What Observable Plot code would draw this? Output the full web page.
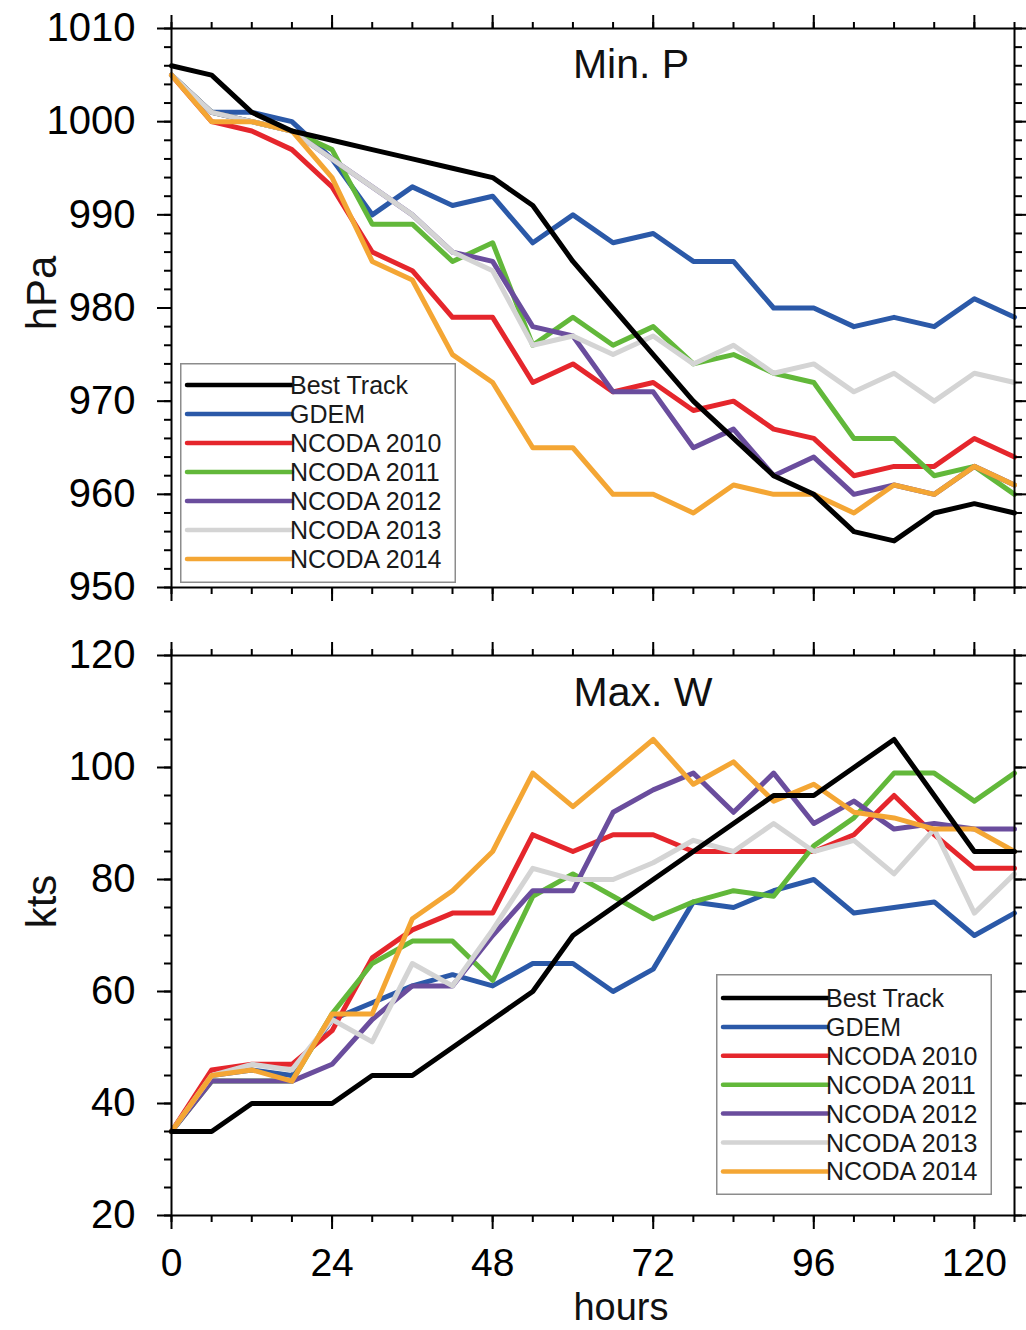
<!DOCTYPE html>
<html>
<head>
<meta charset="utf-8">
<script src="https://cdn.jsdelivr.net/npm/d3@7"></script>
<script src="https://cdn.jsdelivr.net/npm/@observablehq/plot@0.6"></script>
<style>
  body { margin: 0; background: #fff; }
  #wrap { position: relative; width: 1026px; height: 1330px; overflow: hidden; background: #fff;
          font-family: "Liberation Sans", Arial, Helvetica, sans-serif; color: #000; }
  #wrap > svg { position: absolute; left: 0; }
</style>
</head>
<body>
<div id="wrap"></div>
<script>
// ---------------- data ----------------
const hours = [0, 6, 12, 18, 24, 30, 36, 42, 48, 54, 60, 66, 72, 78, 84, 90, 96, 102, 108, 114, 120, 126];
const seriesNames = ["Best Track", "GDEM", "NCODA 2010", "NCODA 2011", "NCODA 2012", "NCODA 2013", "NCODA 2014"];
const seriesColors = ["#000000", "#2b59a8", "#e5262c", "#62b83a", "#6a4d9d", "#d4d4d4", "#f4a634"];

// Minimum pressure (hPa)
const minP_bestTrack = [1006, 1005, 1001, 999, 998, 997, 996, 995, 994, 991, 985, 980, 975, 970, 966, 962, 960, 956, 955, 958, 959, 958];
const minP_gdem      = [1005, 1001, 1001, 1000, 996, 990, 993, 991, 992, 987, 990, 987, 988, 985, 985, 980, 980, 978, 979, 978, 981, 979];
const minP_ncoda2010 = [1005, 1000, 999, 997, 993, 986, 984, 979, 979, 972, 974, 971, 972, 969, 970, 967, 966, 962, 963, 963, 966, 964];
const minP_ncoda2011 = [1005, 1001, 1000, 999, 997, 989, 989, 985, 987, 976, 979, 976, 978, 974, 975, 973, 972, 966, 966, 962, 963, 960];
const minP_ncoda2012 = [1005, 1001, 1000, 999, 996, 993, 990, 986, 985, 978, 977, 971, 971, 965, 967, 962, 964, 960, 961, 960, 963, 961];
const minP_ncoda2013 = [1005, 1001, 1000, 999, 996, 993, 990, 986, 984, 976, 977, 975, 977, 974, 976, 973, 974, 971, 973, 970, 973, 972];
const minP_ncoda2014 = [1005, 1000, 1000, 999, 994, 985, 983, 975, 972, 965, 965, 960, 960, 958, 961, 960, 960, 958, 961, 960, 963, 961];

// Maximum wind (kts)
const maxW_bestTrack = [35, 35, 40, 40, 40, 45, 45, 50, 55, 60, 70, 75, 80, 85, 90, 95, 95, 100, 105, 95, 85, 85];
const maxW_gdem      = [35, 45, 46, 45, 55, 58, 61, 63, 61, 65, 65, 60, 64, 76, 75, 78, 80, 74, 75, 76, 70, 74];
const maxW_ncoda2010 = [35, 46, 47, 47, 53, 66, 71, 74, 74, 88, 85, 88, 88, 85, 85, 85, 85, 88, 95, 88, 82, 82];
const maxW_ncoda2011 = [35, 44, 44, 44, 56, 65, 69, 69, 62, 77, 81, 77, 73, 76, 78, 77, 86, 91, 99, 99, 94, 99];
const maxW_ncoda2012 = [35, 44, 44, 44, 47, 55, 61, 61, 70, 78, 78, 92, 96, 99, 92, 99, 90, 94, 89, 90, 89, 89];
const maxW_ncoda2013 = [35, 45, 47, 46, 55, 51, 65, 61, 71, 82, 80, 80, 83, 87, 85, 90, 85, 87, 81, 89, 74, 81];
const maxW_ncoda2014 = [35, 45, 46, 44, 56, 56, 73, 78, 85, 99, 93, 99, 105, 97, 101, 94, 97, 92, 91, 89, 89, 85];

// Axis ticks
const hourTicks = [0, 24, 48, 72, 96, 120];
const hourMinorTicks = d3.range(0, 127, 6);
const pTicks = [950, 960, 970, 980, 990, 1000, 1010];
const pMinorTicks = d3.range(950, 1011, 2);
const wTicks = [20, 40, 60, 80, 100, 120];
const wMinorTicks = d3.range(20, 121, 5);

const panelTitles = ["Min. P", "Max. W"];
const yLabels = ["hPa", "kts"];
const xLabel = "hours";

// ---------------- drawing ----------------
const FONT = '"Liberation Sans", Arial, Helvetica, sans-serif';
const drawOrder = [1, 2, 3, 4, 5, 6, 0];

function tidy(valuesList) {
  const rows = [];
  for (const i of drawOrder) {
    valuesList[i].forEach((v, j) => rows.push({series: seriesNames[i], hour: hours[j], value: v}));
  }
  return rows;
}

const blank = () => "";
const plain = d => String(d);

function makePanel(o) {
  const ax = {stroke: "#000", strokeWidth: 2, label: null};
  return Plot.plot({
    width: 1026,
    height: o.height,
    marginLeft: 171,
    marginRight: 12,
    marginTop: o.marginTop,
    marginBottom: o.marginBottom,
    style: {fontFamily: FONT, background: "transparent", color: "#000", overflow: "visible"},
    x: {domain: [0, 126]},
    y: {domain: o.yDomain},
    color: {domain: seriesNames, range: seriesColors},
    marks: [
      Plot.line(o.rows, {x: "hour", y: "value", z: "series", stroke: "series", strokeWidth: 5}),
      Plot.frame({stroke: "#000", strokeWidth: 2}),
      Plot.axisY(o.yMajor, {...ax, anchor: "left", tickSize: 14, tickPadding: 22, fontSize: 40, tickFormat: plain}),
      Plot.axisY(o.yMinor, {...ax, anchor: "left", tickSize: 7, tickFormat: blank}),
      Plot.axisY(o.yMajor, {...ax, anchor: "right", tickSize: 14, tickFormat: blank}),
      Plot.axisY(o.yMinor, {...ax, anchor: "right", tickSize: 7, tickFormat: blank}),
      Plot.axisX(hourTicks, {...ax, anchor: "top", tickSize: 14, tickFormat: blank}),
      Plot.axisX(hourMinorTicks, {...ax, anchor: "top", tickSize: 7, tickFormat: blank}),
      Plot.axisX(hourTicks, {...ax, anchor: "bottom", tickSize: 14, tickPadding: 19, fontSize: 39,
                              tickFormat: o.xLabels ? plain : blank}),
      Plot.axisX(hourMinorTicks, {...ax, anchor: "bottom", tickSize: 7, tickFormat: blank}),
      Plot.text([o.title], {frameAnchor: "top", dx: o.titleDx, dy: o.titleDy, lineAnchor: "top",
                            textAnchor: "middle", fontSize: 41, fill: "#111"}),
      Plot.text([o.yLabel], {frameAnchor: "left", rotate: -90, dx: -129, dy: o.yLabelDy,
                             textAnchor: "middle", lineAnchor: "middle", fontSize: 42, fill: "#111"}),
      ...(o.xLabels ? [Plot.text([xLabel], {frameAnchor: "bottom", dx: 28, dy: 92, textAnchor: "middle",
                                            lineAnchor: "middle", fontSize: 38, fill: "#111"})] : [])
    ]
  });
}

const wrapEl = document.getElementById("wrap");

const topPanel = makePanel({
  height: 620, marginTop: 28, marginBottom: 33,
  yDomain: [950, 1010], yMajor: pTicks, yMinor: pMinorTicks,
  rows: tidy([minP_bestTrack, minP_gdem, minP_ncoda2010, minP_ncoda2011, minP_ncoda2012, minP_ncoda2013, minP_ncoda2014]),
  title: panelTitles[0], titleDx: 38, titleDy: 20,
  yLabel: yLabels[0], yLabelDy: -15, xLabels: false
});
topPanel.style.top = "0px";
wrapEl.appendChild(topPanel);

const bottomPanel = makePanel({
  height: 710, marginTop: 35, marginBottom: 115,
  yDomain: [20, 120], yMajor: wTicks, yMinor: wMinorTicks,
  rows: tidy([maxW_bestTrack, maxW_gdem, maxW_ncoda2010, maxW_ncoda2011, maxW_ncoda2012, maxW_ncoda2013, maxW_ncoda2014]),
  title: panelTitles[1], titleDx: 50, titleDy: 21,
  yLabel: yLabels[1], yLabelDy: -34, xLabels: true
});
bottomPanel.style.top = "620px";
wrapEl.appendChild(bottomPanel);

// ---------------- legends ----------------
function addLegend(left, topPx, w, h, row1, step) {
  const svg = d3.select(wrapEl).append("svg")
    .attr("width", w).attr("height", h)
    .style("position", "absolute").style("left", left + "px").style("top", topPx + "px")
    .style("font-family", FONT);
  svg.append("rect").attr("x", 0.75).attr("y", 0.75).attr("width", w - 1.5).attr("height", h - 1.5)
    .attr("fill", "#fff").attr("stroke", "#8c8c8c").attr("stroke-width", 1.5);
  seriesNames.forEach((name, i) => {
    const y = row1 + i * step;
    svg.append("line").attr("x1", 7).attr("x2", 112).attr("y1", y).attr("y2", y)
      .attr("stroke", seriesColors[i]).attr("stroke-width", 4.5).attr("stroke-linecap", "round");
    svg.append("text").attr("x", 110).attr("y", y).attr("dy", "0.36em")
      .attr("font-size", 25).attr("fill", "#1a1a1a").text(name);
  });
}
addLegend(180, 363, 276, 220, 22, 29);
addLegend(716, 974, 276, 221, 24, 28.9);
</script>
</body>
</html>
